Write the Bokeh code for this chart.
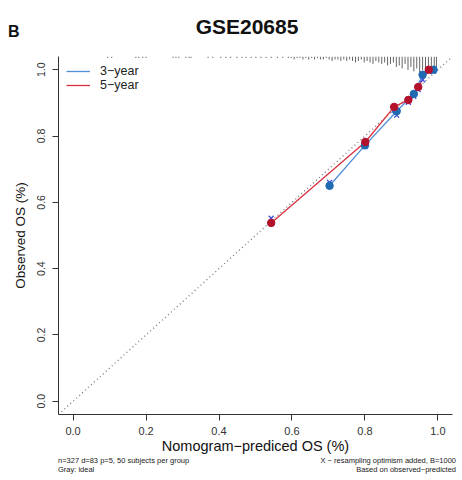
from bokeh.plotting import figure
from bokeh.models import Range1d, FixedTicker, PrintfTickFormatter, Legend, LegendItem, Div
from bokeh.layouts import column
from bokeh.embed import file_html
from bokeh.resources import INLINE

# ---------------- data ----------------
# 3-year calibration (mean predicted, observed, bias-corrected)
pred_3y = [0.703, 0.800, 0.887, 0.934, 0.958, 0.988]
obs_3y = [0.650, 0.772, 0.875, 0.927, 0.985, 1.000]
corr_3y = [0.660, 0.768, 0.863, 0.920, 0.970, 0.996]

# 5-year calibration
pred_5y = [0.543, 0.801, 0.880, 0.919, 0.946, 0.975]
obs_5y = [0.538, 0.782, 0.888, 0.909, 0.948, 1.000]
corr_5y = [0.552, 0.776, 0.878, 0.902, 0.940, 0.995]

# spike histogram of predicted values (positions, counts)
spike_x = [0.095, 0.106, 0.172, 0.180, 0.191, 0.200, 0.274, 0.282, 0.290, 0.309,
           0.318, 0.323, 0.370, 0.383, 0.405, 0.419, 0.432, 0.449, 0.463, 0.474,
           0.488, 0.501, 0.515, 0.529, 0.543, 0.560, 0.575, 0.590, 0.598, 0.606,
           0.614, 0.622, 0.630, 0.638, 0.646, 0.654, 0.662, 0.670, 0.678, 0.686,
           0.694, 0.702, 0.710, 0.718, 0.726, 0.734, 0.742, 0.750, 0.758, 0.766,
           0.774, 0.782, 0.790, 0.798, 0.806, 0.814, 0.822, 0.830, 0.838, 0.846,
           0.854, 0.862, 0.870, 0.878, 0.886, 0.894, 0.902, 0.910, 0.918, 0.926,
           0.934, 0.942, 0.950, 0.958, 0.966, 0.974, 0.982, 0.990, 0.996]
spike_n = [1, 1, 1, 1, 1, 1, 1, 1, 1, 1,
           1, 1, 1, 1, 1, 1, 1, 1, 1, 1,
           1, 1, 1, 1, 1, 1, 1, 1, 1, 2,
           1, 1, 2, 1, 2, 1, 2, 1, 2, 2,
           1, 2, 3, 2, 2, 3, 2, 3, 2, 3,
           4, 3, 2, 4, 3, 4, 5, 3, 4, 5,
           4, 6, 5, 4, 7, 6, 8, 5, 9, 7,
           10, 8, 11, 9, 12, 10, 12, 9, 8]

x_ticks = [0.0, 0.2, 0.4, 0.6, 0.8, 1.0]
y_ticks = [0.0, 0.2, 0.4, 0.6, 0.8, 1.0]

title_text = "GSE20685"
panel_tag = "B"
foot_left = ["n=327 d=83 p=5, 50 subjects per group", "Gray: ideal"]
foot_right = ["X \u2212 resampling optimism added, B=1000", "Based on observed\u2212predicted"]

FONT = "Liberation Sans"
BLUE_LINE = "#4F8FD8"
RED_LINE = "#D8303F"
BLUE_PT = "#1F6AB2"
RED_PT = "#B3122C"
X_COL = "#3B4FE3"

W = 462
TOP_H = 40
FIG_H = 416
BOT_H = 24

p = figure(width=W, height=FIG_H, x_range=Range1d(-0.04, 1.04), y_range=Range1d(-0.04, 1.04),
           output_backend="svg", toolbar_location=None, margin=0,
           min_border_left=58, min_border_right=10, min_border_top=16, min_border_bottom=41)
p.outline_line_color = None
p.grid.visible = False
p.background_fill_color = "white"
p.border_fill_color = "white"

for ax in (p.xaxis, p.yaxis):
    ax.formatter = PrintfTickFormatter(format="%.1f")
    ax.axis_line_color = "#333333"
    ax.major_tick_line_color = "#333333"
    ax.major_tick_out = 6
    ax.major_tick_in = 0
    ax.minor_tick_line_color = None
    ax.major_label_text_font = FONT
    ax.major_label_text_color = "#333333"
    ax.axis_label_text_font = FONT
    ax.axis_label_text_font_style = "normal"
    ax.axis_label_text_color = "#111111"

p.xaxis.ticker = FixedTicker(ticks=x_ticks)
p.yaxis.ticker = FixedTicker(ticks=y_ticks)
p.xaxis.major_label_text_font_size = "11px"
p.yaxis.major_label_text_font_size = "10.5px"
p.xaxis.major_label_standoff = 6
p.yaxis.major_label_standoff = 7
p.yaxis.major_label_orientation = "vertical"
p.xaxis.axis_label = "Nomogram\u2212prediced OS (%)"
p.yaxis.axis_label = "Observed OS (%)"
p.xaxis.axis_label_text_font_size = "14.5px"
p.yaxis.axis_label_text_font_size = "13.5px"
p.xaxis.axis_label_standoff = 0
p.yaxis.axis_label_standoff = 7

# ideal line
p.line([-0.04, 1.04], [-0.04, 1.04], line_color="#777777", line_dash="1 3", line_width=1.3)

# spike histogram at top
top = 1.04
k = 0.0045
p.segment(x0=spike_x, y0=[top] * len(spike_x), x1=spike_x,
          y1=[top - n * k for n in spike_n], line_color="#666666", line_width=1)

# calibration lines
l3 = p.line(pred_3y, obs_3y, line_color=BLUE_LINE, line_width=1.3)
l5 = p.line(pred_5y, obs_5y, line_color=RED_LINE, line_width=1.3)

p.scatter(pred_3y, corr_3y, marker="x", size=7, line_color=X_COL, line_width=1.3)
p.scatter(pred_5y, corr_5y, marker="x", size=7, line_color=X_COL, line_width=1.3)
p.scatter(pred_3y, obs_3y, marker="circle", size=7.5, fill_color=BLUE_PT, line_color=BLUE_PT)
p.scatter(pred_5y, obs_5y, marker="circle", size=7.5, fill_color=RED_PT, line_color=RED_PT)

legend = Legend(items=[LegendItem(label="3\u2212year", renderers=[l3]),
                       LegendItem(label="5\u2212year", renderers=[l5])],
                location="top_left", margin=8, padding=2, spacing=0,
                glyph_width=24, glyph_height=14, label_height=14, label_standoff=10,
                label_text_font=FONT, label_text_font_size="12.5px", label_text_color="#222222",
                border_line_color=None, background_fill_alpha=0)
p.add_layout(legend)

# ---------------- text blocks above and below the figure ----------------
base = "font-family:'Liberation Sans',Arial,sans-serif;color:#111111;position:absolute;white-space:nowrap;"
top_html = (
    f'<div style="position:relative;width:{W}px;height:{TOP_H}px;">'
    f'<span style="{base}left:8px;top:24px;font-size:16px;line-height:16px;font-weight:bold;">{panel_tag}</span>'
    f'<span style="{base}left:147px;width:200px;text-align:center;top:16px;font-size:21px;line-height:21px;font-weight:bold;">{title_text}</span>'
    '</div>'
)
bot_html = (
    f'<div style="position:relative;width:{W}px;height:{BOT_H}px;">'
    f'<span style="{base}color:#1a1a1a;left:58px;top:0px;font-size:7.5px;line-height:9px;">{foot_left[0]}</span>'
    f'<span style="{base}color:#1a1a1a;left:58px;top:9px;font-size:7.5px;line-height:9px;">{foot_left[1]}</span>'
    f'<span style="{base}color:#1a1a1a;right:6px;top:0px;font-size:7.5px;line-height:9px;text-align:right;">{foot_right[0]}</span>'
    f'<span style="{base}color:#1a1a1a;right:6px;top:9px;font-size:7.5px;line-height:9px;text-align:right;">{foot_right[1]}</span>'
    '</div>'
)
top_div = Div(text=top_html, width=W, height=TOP_H, margin=0)
bot_div = Div(text=bot_html, width=W, height=BOT_H, margin=0)

layout = column(top_div, p, bot_div, spacing=0, margin=0)
open("out.html", "w").write(file_html(layout, INLINE))
